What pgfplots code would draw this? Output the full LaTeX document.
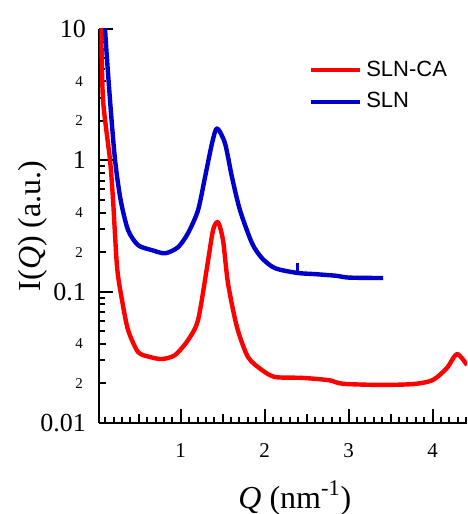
\documentclass[border=0pt]{standalone}
\usepackage{fontspec}
\setmainfont{Liberation Serif}
\setsansfont{Liberation Sans}
\usepackage{pgfplots}
\pgfplotsset{compat=1.18}
\definecolor{myred}{RGB}{255,0,0}
\definecolor{myblue}{RGB}{0,0,205}
\begin{document}
\begin{tikzpicture}
\useasboundingbox (-49.65pt,-45.5pt) rectangle (183.85pt,211.5pt);
\begin{axis}[
  at={(0pt,0pt)}, anchor=south west,
  scale only axis, width=183.85pt, height=197pt,
  ymode=log, xmin=0.03, xmax=4.41, ymin=0.01, ymax=10,
  axis x line*=bottom, axis y line*=left,
  axis line style={line width=1pt},
  every tick/.append style={black, line width=1pt},
  tick align=inside,
  major tick length=7pt, minor tick length=3pt,
  xtick={1,2,3,4}, xticklabels={1,2,3,4},
  minor xtick={0.1,0.2,0.3,0.4,0.6,0.7,0.8,0.9,1.1,1.2,1.3,1.4,1.6,1.7,1.8,1.9,2.1,2.2,2.3,2.4,2.6,2.7,2.8,2.9,3.1,3.2,3.3,3.4,3.6,3.7,3.8,3.9,4.1,4.2,4.3,4.4},
  extra x ticks={0.5,1.5,2.5,3.5},
  extra x tick labels={},
  extra x tick style={major tick length=4.5pt},
  log ticks with fixed point,
  /pgf/number format/assume math mode=true,
  extra y ticks={0.02,0.04,0.2,0.4,2,4},
  extra y tick labels={2,4,2,4,2,4},
  extra y tick style={major tick length=3.5pt, yticklabel style={font=\fontsize{7.5}{8}\selectfont, inner sep=0pt, xshift=-1.5pt}},
  xticklabel style={font=\fontsize{10.5}{12}\selectfont, inner sep=0pt, anchor=north, yshift=-10pt},
  yticklabel style={font=\fontsize{13}{14}\selectfont, inner sep=0pt, anchor=east, xshift=-6.5pt},
  every axis x label/.style={at={(axis description cs:0.532,-0.19)}, anchor=center, font=\fontsize{16}{18}\selectfont},
  every axis y label/.style={at={(axis description cs:-0.18,0.5)}, rotate=90, anchor=center, font=\fontsize{16}{18}\selectfont},
  xlabel={\textit{Q} (nm\textsuperscript{-1})},
  ylabel={I(\textit{Q}) (a.u.)},
  legend style={at={(axis description cs:0.57,0.93)}, anchor=north west, draw=none, fill=none,
    font=\sffamily\fontsize{11}{12}\selectfont, row sep=2.5pt, inner sep=0pt},
  legend cell align=left,
  legend image code/.code={\draw[#1, line width=2pt] (-6pt,0pt) -- (18.5pt,0pt);},
  clip=true,
]
\addplot[myred, line width=2.2pt, line join=round, smooth, tension=0.45] coordinates {
(0.040,20) (0.052,9.9) (0.075,2.86) (0.158,1.0) (0.194,0.496) (0.242,0.153)
(0.301,0.086) (0.373,0.051) (0.492,0.0347) (0.635,0.0318) (0.777,0.0307)
(0.932,0.0329) (1.087,0.0428) (1.206,0.0607) (1.313,0.153) (1.385,0.294)
(1.444,0.338) (1.504,0.246) (1.563,0.116) (1.670,0.0537) (1.801,0.0318)
(1.968,0.0253) (2.123,0.0224) (2.42,0.0221) (2.6,0.0217) (2.78,0.0211) (2.93,0.0199)
(3.37,0.0195) (3.77,0.0198) (4.0,0.0212) (4.17,0.0262) (4.29,0.0335) (4.41,0.0276)
};
\addlegendentry{SLN-CA}
\addplot[myblue, line width=2.2pt, line join=round, smooth, tension=0.45] coordinates {
(0.090,20) (0.099,9.9) (0.158,2.86) (0.218,1.0) (0.285,0.496) (0.373,0.294)
(0.492,0.226) (0.658,0.207) (0.813,0.196) (0.968,0.218) (1.087,0.279)
(1.206,0.417) (1.289,0.742) (1.373,1.35) (1.432,1.75) (1.527,1.35)
(1.611,0.742) (1.706,0.417) (1.849,0.234) (1.968,0.180) (2.123,0.151)
(2.385,0.139) (2.6,0.136) (2.86,0.132) (3.0,0.128) (3.41,0.127)
};
\addlegendentry{SLN}
\addplot[myblue, line width=1.5pt, forget plot] coordinates {(2.385,0.137) (2.385,0.166)};
\end{axis}
\end{tikzpicture}
\end{document}
